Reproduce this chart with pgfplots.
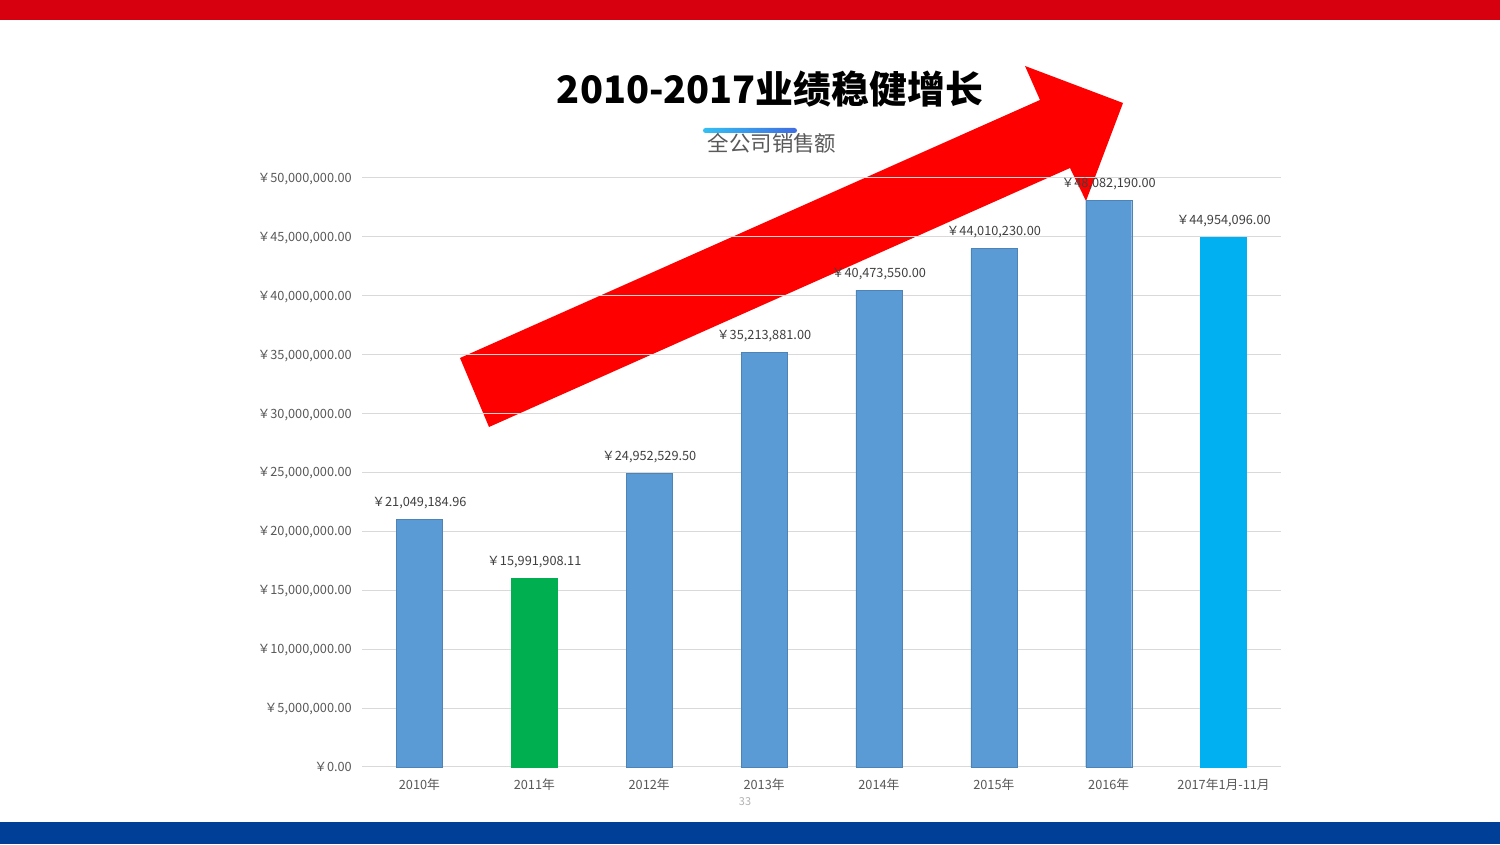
\documentclass[border=0pt]{standalone}
\usepackage{fontspec}
\setmainfont{Noto Sans CJK SC}
\usepackage{pgfplots}
\pgfplotsset{compat=1.18}
\usepackage{pgfplotstable}
\definecolor{barblue}{HTML}{5B9BD5}
\definecolor{bargreen}{HTML}{00B050}
\definecolor{barcyan}{HTML}{00B0F0}
\definecolor{topred}{HTML}{D7000F}
\definecolor{botblue}{HTML}{003F98}
\definecolor{gridgray}{HTML}{D9D9D9}
\definecolor{ticktext}{HTML}{595959}
\definecolor{labtext}{HTML}{404040}

\pgfplotstableread{
x y label
0 21049184.96 21,049,184.96
2 24952529.50 24,952,529.50
3 35213881.00 35,213,881.00
4 40473550.00 40,473,550.00
5 44010230.00 44,010,230.00
6 48082190.00 48,082,190.00
}\bluedata
\pgfplotstableread{
x y label
1 15991908.11 15,991,908.11
}\greendata
\pgfplotstableread{
x y label
7 44954096.00 44,954,096.00
}\cyandata

\begin{document}
\begin{tikzpicture}[x=1bp,y=1bp]
% background and bands
\fill[white] (0,0) rectangle (1500,844);
\fill[topred] (0,824) rectangle (1500,844);
\fill[botblue] (0,0) rectangle (1500,22);
% title
\node[anchor=base, inner sep=0pt, font=\fontsize{38}{42}\selectfont\bfseries] at (770,740) {2010-2017业绩稳健增长};
% red arrow
\fill[red] (460,486) -- (1040,744) -- (1025,778) -- (1123,741) -- (1086,643) -- (1070,676) -- (489,417) -- cycle;
% subtitle underline
\shade[left color=barcyan!80!white, right color=barblue!70!blue, rounded corners=2.5bp] (703,711) rectangle (797,716);
\node[anchor=base, inner sep=0pt, text=ticktext, font=\fontsize{21.5}{24}\selectfont] at (772,692.5) {全公司销售额};
\begin{axis}[
  at={(362bp,77bp)}, anchor=south west,
  scale only axis, width=919bp, height=589bp,
  xmin=-0.5, xmax=7.5, ymin=0, ymax=50000000,
  axis x line*=bottom, axis y line*=left,
  x axis line style={draw=gridgray, line width=1bp, -},
  y axis line style={draw=none},
  major tick length=0pt,
  ymajorgrids, grid style={draw=gridgray, line width=1bp},
  ytick={0,5000000,10000000,15000000,20000000,25000000,30000000,35000000,40000000,45000000,50000000},
  yticklabels={{￥0.00},{￥5,000,000.00},{￥10,000,000.00},{￥15,000,000.00},{￥20,000,000.00},{￥25,000,000.00},{￥30,000,000.00},{￥35,000,000.00},{￥40,000,000.00},{￥45,000,000.00},{￥50,000,000.00}},
  yticklabel style={anchor=base east, inner sep=0pt, xshift=-10bp, yshift=-4.5bp, text=ticktext, font=\fontsize{12.8}{14}\selectfont},
  xtick={0,1,2,3,4,5,6,7},
  xticklabels={2010年,2011年,2012年,2013年,2014年,2015年,2016年,2017年1月-11月},
  xticklabel style={anchor=base, inner sep=0pt, yshift=-23bp, text=ticktext, font=\fontsize{12.8}{14}\selectfont},
  scaled y ticks=false,
  ybar, bar width=46bp,
  nodes near coords={￥\pgfplotspointmeta},
  point meta=explicit symbolic,
  every node near coord/.append style={anchor=base, inner sep=0pt, yshift=13bp, text=labtext, font=\fontsize{12.8}{14}\selectfont},
  clip=false,
]
\addplot[bar shift=0pt, fill=barblue, draw=barblue!85!black] table[x=x, y=y, meta=label] {\bluedata};
\addplot[bar shift=0pt, fill=bargreen, draw=bargreen] table[x=x, y=y, meta=label] {\greendata};
\addplot[bar shift=0pt, fill=barcyan, draw=barcyan] table[x=x, y=y, meta=label] {\cyandata};
\end{axis}
\node[text=gray!60, font=\fontsize{11}{12}\selectfont, inner sep=0pt] at (745,42) {33};
\pgfresetboundingbox
\useasboundingbox (0,0) rectangle (1500,844);
\end{tikzpicture}
\end{document}
